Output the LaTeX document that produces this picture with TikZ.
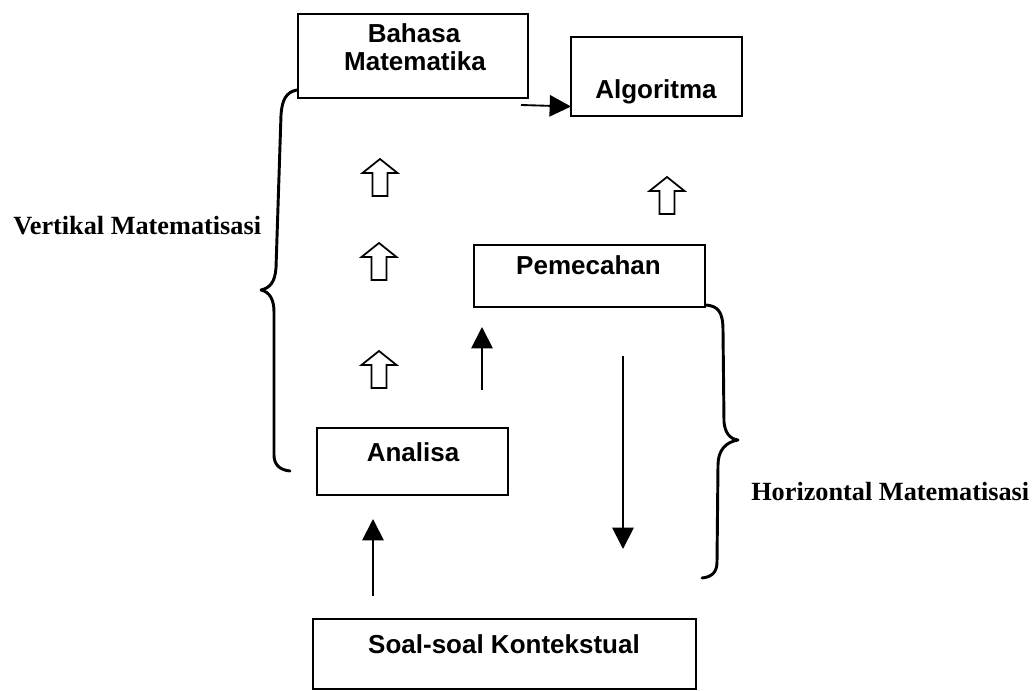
\documentclass[tikz,border=0pt]{standalone}
\usepackage{fontspec}
\setmainfont{Liberation Serif}
\newfontfamily\boxfont{Liberation Sans}
\usetikzlibrary{calc,arrows.meta}
\begin{document}
\begin{tikzpicture}[x=0.75pt,y=-0.75pt,
  box/.style={draw, line width=1.5pt, inner sep=0pt, outer sep=0pt},
  boxtext/.style={anchor=base, inner sep=0pt, font=\boxfont\bfseries\fontsize{19.5pt}{23pt}\selectfont},
  sidetext/.style={anchor=base west, inner sep=0pt, font=\bfseries\fontsize{19.7pt}{24pt}\selectfont},
  solidarrow/.style={line width=1.4pt, -{Triangle[length=16pt,width=16pt]}},
  bracepath/.style={line width=2.2pt, line cap=round, line join=round},
  hollowup/.pic={\draw[line width=1.3pt, line join=miter]
     (-7.5,37) -- (-7.5,14) -- (-17.5,14) -- (0,0) -- (17.5,14) -- (7.5,14) -- (7.5,37) -- cycle;}
]
\useasboundingbox (0,0) rectangle (1032,691);

% boxes
\node[box, minimum width=172.5pt, minimum height=63pt] (bm) at (413,56) {};
\node[box, minimum width=128.25pt, minimum height=59.25pt] (alg) at (656.5,76.5) {};
\node[box, minimum width=173.25pt, minimum height=46.5pt] (pem) at (589.5,276) {};
\node[box, minimum width=143.25pt, minimum height=50.25pt] (an) at (412.5,461.5) {};
\node[box, minimum width=287.25pt, minimum height=52.5pt] (soal) at (504.5,654) {};

% box texts
\node[boxtext] (bmt1) at (414,43) {Bahasa};
\node[boxtext] (bmt2) at (415,71) {Matematika};
\node[boxtext] (algt) at (656,99) {Algoritma};
\node[boxtext] (pemt) at (588.5,275) {Pemecahan};
\node[boxtext] (ant) at (413,462) {Analisa};
\node[boxtext] (soalt) at (504,653) {Soal-soal Kontekstual};

% side labels
\node[sidetext] (vert) at (13,235) {Vertikal Matematisasi};
\node[sidetext] (hor) at (751,500) {Horizontal Matematisasi};

% solid arrows
\draw[solidarrow] ($(bm.south east)+(-7,7)$) -- ($(alg.west)+(0,30)$);
\draw[solidarrow] ($(soal.north)+(-131.5,-23)$) -- ($(an.south)+(-39.5,24)$);
\draw[solidarrow] ($(an.north east)+(-26,-38)$) -- ($(pem.south west)+(8,20)$);
\draw[solidarrow] ($(pem.south)+(33.5,49)$) -- ($(soal.north)+(118.5,-70)$);

% hollow arrows
\pic at (380,159) {hollowup};
\pic at (379,243) {hollowup};
\pic at (379,351) {hollowup};
\pic at (667,177) {hollowup};

% left brace
\draw[bracepath] (297,90) .. controls (286,92) and (282,100) .. (281,115)
  -- (276,268) .. controls (275,282) and (270,288) .. (261,290)
  .. controls (270,292) and (274,300) .. (274,312)
  -- (274,455) .. controls (274,465) and (280,470) .. (290,471);

% right brace
\draw[bracepath] (706,305) .. controls (718,306) and (723,312) .. (723,330)
  -- (724,422) .. controls (725,433) and (730,439) .. (738,440)
  .. controls (726,442) and (718,450) .. (718,465)
  -- (717,562) .. controls (717,572) and (712,577) .. (702,578);
\end{tikzpicture}
\end{document}
